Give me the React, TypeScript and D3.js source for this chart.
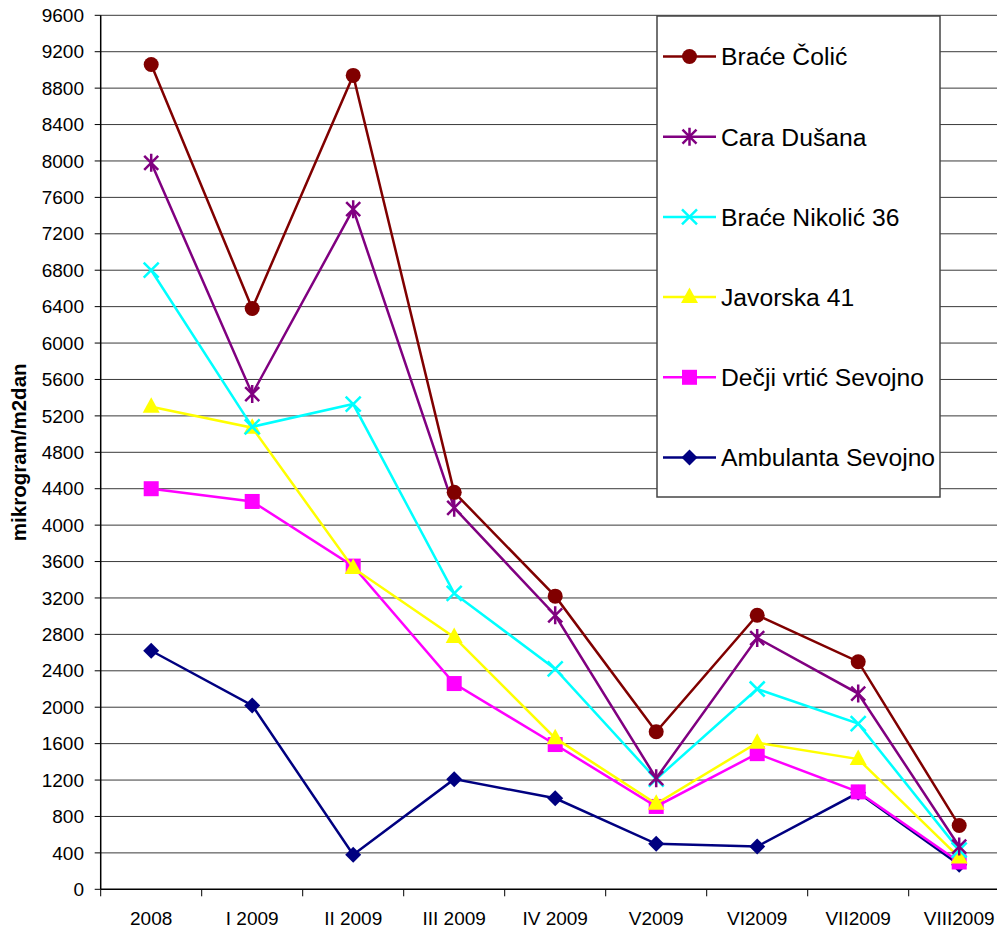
import React from 'react';
import * as d3 from 'd3';

// Kategorije (meseci)
const categories = ['2008', 'I 2009', 'II 2009', 'III 2009', 'IV 2009', 'V2009', 'VI2009', 'VII2009', 'VIII2009'];

// Vrednosti po mernim mestima
const braceColic = [9060, 6380, 8940, 4360, 3220, 1730, 3010, 2500, 700];
const caraDusana = [7980, 5440, 7470, 4190, 3010, 1220, 2760, 2150, 470];
const braceNikolic = [6800, 5080, 5330, 3250, 2420, 1210, 2200, 1820, 430];
const javorska = [5300, 5070, 3530, 2770, 1660, 940, 1610, 1430, 350];
const decjiVrtic = [4400, 4260, 3550, 2260, 1590, 910, 1490, 1070, 300];
const ambulanta = [2620, 2020, 380, 1210, 1000, 500, 470, 1060, 270];

const yTicks = d3.range(0, 9601, 400);

type Marker = 'circle' | 'asterisk' | 'x' | 'triangle' | 'square' | 'diamond';

const series: { name: string; values: number[]; color: string; marker: Marker }[] = [
  { name: 'Braće Čolić', values: braceColic, color: '#800000', marker: 'circle' },
  { name: 'Cara Dušana', values: caraDusana, color: '#800080', marker: 'asterisk' },
  { name: 'Braće Nikolić 36', values: braceNikolic, color: '#00FFFF', marker: 'x' },
  { name: 'Javorska 41', values: javorska, color: '#FFFF00', marker: 'triangle' },
  { name: 'Dečji vrtić Sevojno', values: decjiVrtic, color: '#FF00FF', marker: 'square' },
  { name: 'Ambulanta Sevojno', values: ambulanta, color: '#000080', marker: 'diamond' },
];

const W = 997;
const H = 932;
const left = 100.7;
const top = 15.3;
const bottom = 889.3;
const band = 101;
const right = left + band * categories.length;

const FONT = '"Liberation Sans", Arial, sans-serif';
const LW = 2.5;

const MarkerShape: React.FC<{ type: Marker; x: number; y: number; color: string }> = ({ type, x, y, color }) => {
  switch (type) {
    case 'circle':
      return <circle cx={x} cy={y} r={7.5} fill={color} />;
    case 'square':
      return <rect x={x - 7.5} y={y - 7.5} width={15} height={15} fill={color} />;
    case 'diamond':
      return <path d={`M${x},${y - 8}L${x + 8},${y}L${x},${y + 8}L${x - 8},${y}Z`} fill={color} />;
    case 'triangle':
      return <path d={`M${x},${y - 9.5}L${x + 8.5},${y + 6}L${x - 8.5},${y + 6}Z`} fill={color} />;
    case 'x':
      return (
        <path d={`M${x - 7.5},${y - 7.5}L${x + 7.5},${y + 7.5}M${x + 7.5},${y - 7.5}L${x - 7.5},${y + 7.5}`} stroke={color} strokeWidth={LW} fill="none" />
      );
    case 'asterisk':
      return (
        <path
          d={`M${x - 7},${y - 7}L${x + 7},${y + 7}M${x + 7},${y - 7}L${x - 7},${y + 7}M${x},${y - 9}L${x},${y + 9}`}
          stroke={color}
          strokeWidth={LW}
          fill="none"
        />
      );
  }
};

export default function App() {
  const x = d3.scalePoint<string>().domain(categories).range([left, right]).padding(0.5);
  const y = d3.scaleLinear().domain([0, 9600]).range([bottom, top]);

  const line = d3
    .line<number>()
    .x((_, i) => x(categories[i]) as number)
    .y((d) => y(d));

  const drawOrder = [...series].reverse();

  return (
    <svg width={W} height={H} style={{ position: 'absolute', left: 0, top: 0, background: '#fff' }} fontFamily={FONT}>
      {/* mreža */}
      {yTicks.map((t) =>
        t > 0 ? <line key={t} x1={left} x2={right} y1={y(t)} y2={y(t)} stroke="#3a3a3a" strokeWidth={1} /> : null
      )}

      {/* ose */}
      <line x1={left} x2={left} y1={top} y2={bottom} stroke="#000" strokeWidth={1.5} />
      <line x1={left} x2={right} y1={bottom} y2={bottom} stroke="#000" strokeWidth={1.5} />
      {yTicks.map((t) => (
        <g key={'yt' + t}>
          <line x1={left - 6} x2={left} y1={y(t)} y2={y(t)} stroke="#000" />
          <text x={84} y={y(t)} dy="0.35em" textAnchor="end" fontSize={19}>
            {t}
          </text>
        </g>
      ))}
      {d3.range(categories.length + 1).map((i) => (
        <line key={'xt' + i} x1={left + band * i} x2={left + band * i} y1={bottom} y2={bottom + 7} stroke="#000" />
      ))}
      {categories.map((c) => (
        <text key={c} x={x(c)} y={925} textAnchor="middle" fontSize={19}>
          {c}
        </text>
      ))}

      <text transform={`translate(19,${(top + bottom) / 2}) rotate(-90)`} textAnchor="middle" dy="0.35em" fontSize={20.5} fontWeight="bold">
        mikrogram/m2dan
      </text>

      {/* serije */}
      {drawOrder.map((s) => (
        <g key={s.name}>
          <path d={line(s.values) ?? ''} fill="none" stroke={s.color} strokeWidth={LW} />
          {s.values.map((v, i) => (
            <MarkerShape key={i} type={s.marker} x={x(categories[i]) as number} y={y(v)} color={s.color} />
          ))}
        </g>
      ))}

      {/* legenda */}
      <rect x={657} y={16} width={283} height={481} fill="#fff" stroke="#444" strokeWidth={1.5} />
      {series.map((s, i) => {
        const ly = 56.5 + i * 80.2;
        return (
          <g key={'lg' + s.name}>
            <line x1={663} x2={716} y1={ly} y2={ly} stroke={s.color} strokeWidth={LW} />
            <MarkerShape type={s.marker} x={689.5} y={ly} color={s.color} />
            <text x={721} y={ly} dy="0.36em" fontSize={24.7}>
              {s.name}
            </text>
          </g>
        );
      })}
    </svg>
  );
}
